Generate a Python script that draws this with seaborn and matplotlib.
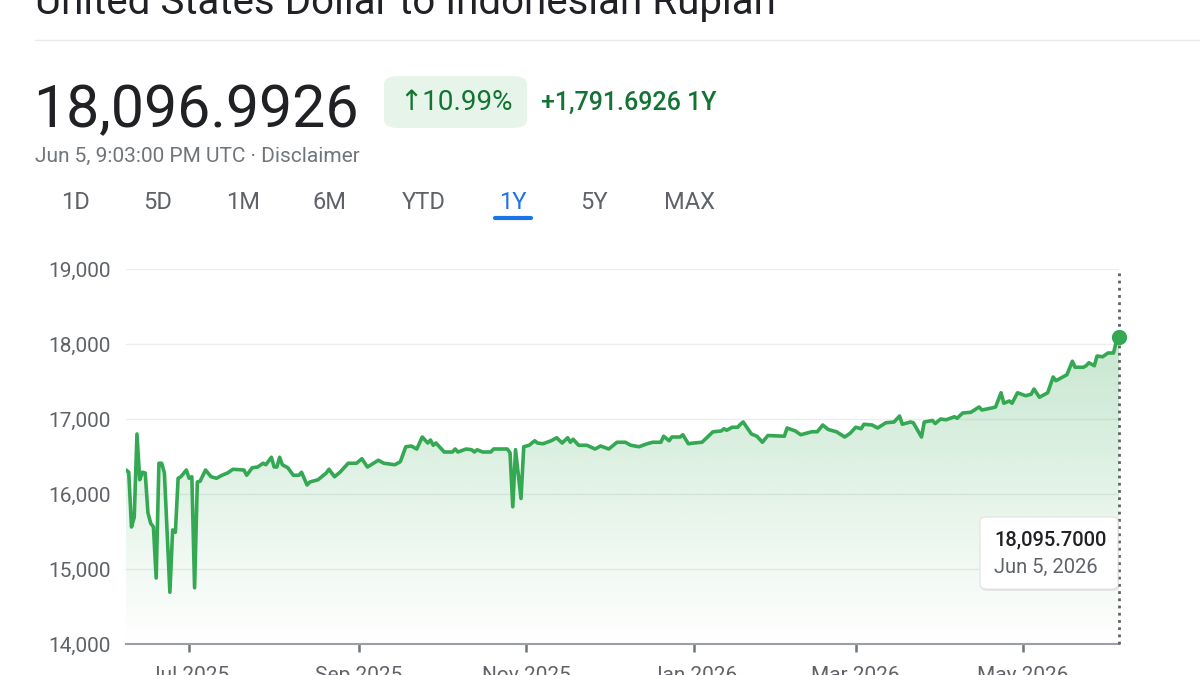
import numpy as np
import pandas as pd
import matplotlib
matplotlib.use('Agg')
import matplotlib.pyplot as plt
import matplotlib.dates as mdates
from matplotlib.colors import to_rgb
from matplotlib.patches import FancyBboxPatch
import seaborn as sns

# ---- data ----
START = pd.Timestamp('2025-06-08')
day_offsets = [
    0, 1, 2, 3, 4, 5, 6, 7, 8, 9, 10, 11, 12, 13, 14, 16, 17, 18, 19, 20,
    22, 23, 24, 25, 26, 27, 29, 31, 33, 35, 37, 39, 43, 44, 46, 48, 50, 51, 53, 54,
    55, 56, 57, 59, 61, 63, 64, 66, 67, 70, 72, 73, 74, 76, 78, 81, 84, 86, 88, 92,
    94, 96, 98, 100, 102, 104, 106, 108, 110, 111, 112, 113, 116, 119, 120, 121, 124, 126, 127, 128,
    130, 133, 134, 139, 140, 141, 142, 144, 145, 147, 149, 150, 152, 155, 157, 159, 161, 162, 163, 165,
    168, 171, 173, 176, 179, 182, 184, 187, 190, 192, 195, 196, 198, 199, 202, 203, 205, 207, 210, 212,
    214, 217, 218, 219, 221, 223, 224, 225, 228, 230, 232, 234, 240, 241, 244, 246, 250, 252, 254, 256,
    259, 262, 264, 266, 268, 269, 272, 274, 277, 280, 282, 283, 286, 287, 290, 291, 294, 295, 297, 299,
    302, 303, 305, 308, 311, 312, 316, 317, 319, 320, 322, 323, 325, 328, 330, 331, 333, 336, 338, 339,
    341, 343, 345, 346, 349, 350, 351, 353, 354, 356, 358, 360, 361, 362,
]
rates = [
    16320, 16290, 15560, 15690, 16800, 16190, 16290, 16280, 15750, 15610, 15560, 14880, 16410, 16410, 16280, 14690, 15520, 15490, 16210, 16230,
    16320, 16210, 16230, 14750, 16160, 16170, 16320, 16230, 16210, 16250, 16280, 16330, 16320, 16250, 16350, 16360, 16410, 16390, 16490, 16360,
    16360, 16490, 16390, 16350, 16250, 16250, 16290, 16120, 16160, 16190, 16250, 16280, 16330, 16230, 16290, 16410, 16410, 16470, 16360, 16450,
    16410, 16400, 16390, 16430, 16630, 16640, 16600, 16760, 16680, 16720, 16650, 16680, 16560, 16560, 16600, 16560, 16600, 16590, 16560, 16590,
    16560, 16560, 16600, 16600, 16550, 15830, 16590, 15940, 16630, 16650, 16710, 16680, 16670, 16710, 16750, 16680, 16750, 16690, 16730, 16650,
    16650, 16600, 16640, 16600, 16690, 16690, 16650, 16630, 16670, 16690, 16690, 16770, 16710, 16760, 16760, 16790, 16670, 16680, 16690, 16760,
    16830, 16840, 16870, 16850, 16890, 16890, 16930, 16960, 16800, 16770, 16690, 16780, 16770, 16880, 16840, 16790, 16830, 16830, 16920, 16860,
    16830, 16760, 16810, 16890, 16870, 16930, 16920, 16880, 16950, 16960, 17040, 16930, 16960, 16950, 16760, 16960, 16980, 16940, 17000, 16990,
    17030, 17010, 17080, 17090, 17160, 17120, 17150, 17160, 17350, 17210, 17240, 17210, 17350, 17310, 17330, 17400, 17290, 17350, 17560, 17510,
    17550, 17590, 17770, 17690, 17690, 17710, 17750, 17710, 17840, 17830, 17880, 17880, 18030, 18095.7,
]
tick_dates = ['2025-07-01', '2025-09-01', '2025-11-01', '2026-01-01', '2026-03-01', '2026-05-01']
y_ticks = [14000, 15000, 16000, 17000, 18000, 19000]
tabs = ['1D', '5D', '1M', '6M', 'YTD', '1Y', '5Y', 'MAX']
tab_x = [75, 158, 243, 330, 424, 513, 594, 689]

GREEN = '#34a853'
DARK_GREEN = '#137333'
GREY = '#5f6368'
BLUE = '#1a73e8'

df = pd.DataFrame({'date': START + pd.to_timedelta(day_offsets, unit='D'), 'rate': rates})

sns.set_theme(style='white')
plt.rcParams['font.family'] = ['Roboto', 'DejaVu Sans']

W, H = 1200, 675
fig = plt.figure(figsize=(12, 6.75), dpi=100)


def px(x, y):
    return x / W, 1 - y / H


# ---- header ----
fig.text(*px(35, 14), 'United States Dollar to Indonesian Rupiah', fontsize=29,
         color='#202124', va='baseline', ha='left')
fig.add_artist(plt.Line2D([35 / W, 1.0], [1 - 40 / H] * 2, color='#e8eaed', lw=1))
fig.text(*px(33, 127), '18,096.9926', fontsize=42.5, color='#202124', va='baseline')
fig.patches.append(FancyBboxPatch(px(384, 128), 143 / W, 52 / H, transform=fig.transFigure,
                                  boxstyle='round,pad=0,rounding_size=0.012', fc='#e6f4ea', ec='none'))
fig.text(*px(456, 110), '\u219110.99%', fontsize=20, color=DARK_GREEN, va='baseline',
         ha='center')
fig.text(*px(541, 110), '+1,791.6926 1Y', fontsize=18, color=DARK_GREEN, va='baseline',
         fontweight='medium')
fig.text(*px(35, 162), 'Jun 5, 9:03:00 PM UTC \u00b7 Disclaimer', fontsize=15, color='#70757a',
         va='baseline')
for lab, x in zip(tabs, tab_x):
    fig.text(*px(x, 202), lab, fontsize=17, color=BLUE if lab == '1Y' else GREY,
             ha='center', va='center')
fig.add_artist(plt.Line2D([495 / W, 531 / W], [1 - 218 / H] * 2, color=BLUE, lw=3,
                          solid_capstyle='round'))

# ---- chart ----
ax = fig.add_axes([126 / W, 31 / H, 993 / W, 375 / H])
sns.lineplot(data=df, x='date', y='rate', ax=ax, color=GREEN, lw=2.6, zorder=4)

x0, x1 = df['date'].iloc[0], df['date'].iloc[-1]
poly = ax.fill_between(df['date'], df['rate'], 14000, color='none', lw=0)
grad = np.zeros((256, 1, 4))
grad[..., :3] = to_rgb(GREEN)
grad[:, 0, 3] = np.linspace(0.28, 0.0, 256)
im = ax.imshow(grad, aspect='auto', origin='upper', zorder=2,
               extent=[mdates.date2num(x0), mdates.date2num(x1), 14000, 18150])
im.set_clip_path(poly.get_paths()[0], transform=ax.transData)

ax.plot([x1, x1], [14000, 18960], color=GREY, lw=2.0, ls=(0, (1.0, 1.6)), zorder=6, clip_on=False)
ax.plot([x1], [rates[-1]], 'o', color=GREEN, ms=10, zorder=7, clip_on=False)

ax.set_xlim(x0, x1)
ax.set_ylim(14000, 19000)
ax.set_yticks(y_ticks)
ax.set_yticklabels([f'{v:,}' for v in y_ticks])
ax.set_xticks(pd.to_datetime(tick_dates))
ax.xaxis.set_major_formatter(mdates.DateFormatter('%b %Y'))
ax.set_xlabel('')
ax.set_ylabel('')
ax.yaxis.grid(True, color='#ededed', lw=1)
ax.xaxis.grid(False)
ax.set_axisbelow(True)
for s in ['top', 'right', 'left']:
    ax.spines[s].set_visible(False)
ax.spines['bottom'].set_color('#9aa0a6')
ax.spines['bottom'].set_linewidth(1.5)
ax.tick_params(axis='y', length=0, pad=11, labelsize=15, labelcolor=GREY)
ax.tick_params(axis='x', direction='out', length=6, width=1.8, color='#70757a', pad=10,
               labelsize=15, labelcolor=GREY, bottom=True)

# ---- tooltip ----
fig.patches.append(FancyBboxPatch(px(981, 591), 138 / W, 73 / H, transform=fig.transFigure,
                                  boxstyle='round,pad=0,rounding_size=0.006',
                                  fc='#000000', ec='none', alpha=0.08, zorder=7))
fig.patches.append(FancyBboxPatch(px(980, 589), 138 / W, 72 / H, transform=fig.transFigure,
                                  boxstyle='round,pad=0,rounding_size=0.006',
                                  fc='white', ec='#e3e3e3', lw=0.8, zorder=8))
fig.text(*px(994, 540), f'{rates[-1]:,.4f}', fontsize=14.5, color='#202124', va='center',
         fontweight='medium', zorder=9)
fig.text(*px(994, 567), 'Jun 5, 2026', fontsize=14.5, color=GREY, va='center', zorder=9)

fig.savefig('out.png', dpi=100)
